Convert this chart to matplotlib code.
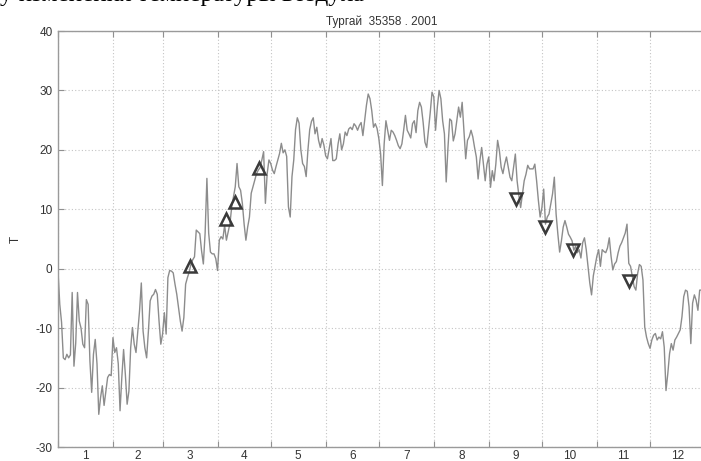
import numpy as np
import matplotlib
matplotlib.use("Agg")
import matplotlib.pyplot as plt
from matplotlib.ticker import FixedLocator, NullFormatter, FixedFormatter

# Daily air temperature, Turgai 35358, 2001
temps = [
    -0.4, -6, -9, -15, -15.3, -14.4, -15, -14.5, -4, -16.4,
    -12.5, -4, -8.8, -10, -12.7, -13.3, -5.2, -6, -15.5, -20.8,
    -14.4, -11.9, -16, -24.5, -21.7, -19.7, -23, -20.6, -18.3, -17.8,
    -18, -11.6, -14.1, -13.3, -16, -23.9, -18.3, -13.6, -17.8, -22.8,
    -20.6, -13.3, -9.9, -12.7, -14.1, -10.5, -7.1, -2.4, -10.5, -13.3,
    -15, -10.5, -5.4, -4.6, -4.3, -3.5, -4.3, -8.8, -12.7, -11,
    -7.4, -11, -1.5, -0.3, -0.4, -0.7, -2.6, -4.3, -6.5, -8.8,
    -10.5, -8.2, -2.6, -1.5, -0.6, 0.8, 1.5, 2, 6.5, 6.2,
    5.9, 3, 0.8, 6, 15.2, 6, 2.8, 2.5, 2.5, 1.7,
    -0.3, 4.8, 5.4, 5, 7.3, 4.8, 6.2, 7.6, 10.4, 12.1,
    13.8, 17.7, 13.8, 13.2, 11, 7.5, 4.8, 7, 8.7, 12.7,
    13.8, 14.9, 16, 16.6, 17, 18.3, 19.7, 11, 16, 18.3,
    17.7, 16.6, 16, 17.2, 18.3, 19.4, 21.1, 19.5, 20, 18.9,
    10.4, 8.7, 15.5, 18.3, 23.4, 25.4, 24.5, 20, 17.7, 17.2,
    15.5, 20, 23.4, 24.8, 25.4, 22.7, 23.8, 21.6, 20.4, 21.9,
    20.8, 19, 18.5, 20.2, 21.9, 18.2, 18.2, 18.5, 21, 22.7,
    20, 21, 23, 22.4, 23.5, 23.8, 23.4, 24.4, 24, 23.3,
    24.1, 24.6, 22.4, 24.9, 27.5, 29.4, 28.6, 26.6, 23.8, 24.4,
    23.6, 21.9, 19.3, 14, 21, 24.9, 23.2, 21.6, 23.3, 23,
    22.4, 21.6, 20.7, 20.2, 21, 23.3, 25.8, 23.3, 22.7, 22,
    24.4, 24.9, 22.9, 26.6, 28, 27.2, 24.6, 21.3, 20.4, 23.3,
    26.3, 29.7, 28.9, 23.3, 27.2, 30, 28.6, 24.9, 22.7, 14.6,
    20.4, 25.2, 24.9, 21.5, 22.7, 24.9, 27.2, 25.5, 28, 23.3,
    18.5, 21.6, 22.2, 23.3, 22.2, 20.4, 18.8, 15.1, 18.2, 20.4,
    17.6, 14.8, 17.6, 18.8, 13.7, 16.5, 14.8, 17.6, 21.6, 19.9,
    17.1, 16, 17.6, 18.8, 17.1, 15.4, 14.8, 17.1, 19.3, 14.8,
    12.3, 10.3, 12.5, 14.8, 15.9, 17.4, 16.8, 16.8, 16.8, 17.6,
    14.8, 11.5, 8.7, 10.3, 13.4, 7.5, 8.7, 9.2, 10.9, 12.6,
    15.4, 9.2, 5.8, 2.8, 4.7, 7, 8.1, 7, 5.8, 5.3,
    4.7, 3.1, 3.8, 2.7, 3.2, 1.8, 4.4, 5.2, 3.2, 0.4,
    -2.4, -4.4, -1.2, 0.4, 2.1, 3.2, 0.4, 3.2, 2.9, 2.7,
    3.5, 5.2, 2.1, -0.2, 0.8, 1.2, 2.7, 3.8, 4.4, 5.2,
    6, 7.5, 0.9, 0.4, -1.3, -3, -3.6, -0.8, 0.7, 0.4,
    -1.9, -9.8, -11.5, -12.6, -13.4, -12, -11.2, -10.9, -12, -11.5,
    -11.8, -10.6, -13.2, -20.5, -17.7, -14.3, -12.6, -13.7, -12, -11.5,
    -10.9, -10.3, -8.1, -4.7, -3.6, -3.8, -6.4, -12.6, -5.8, -4.4,
    -5.3, -7, -3.6, -3.6, -3.5,
]
days = np.arange(len(temps))

# Marked points
up_days = [74.4, 94.6, 99.8, 113.5]
up_temps = [0.4, 8.4, 11.2, 16.9]
down_days = [258.5, 274.5, 290.4, 322.3]
down_temps = [11.8, 7.0, 3.1, -2.1]

month_starts = [0, 31, 59, 90, 120, 151, 181, 212, 243, 273, 304, 334, 365]
month_labels = ["1", "2", "3", "4", "5", "6", "7", "8", "9", "10", "11", "12"]
y_ticks = [-30, -20, -10, 0, 10, 20, 30, 40]

plt.rcParams['font.family'] = ['Liberation Sans', 'DejaVu Sans']
plt.rcParams['axes.unicode_minus'] = False

fig = plt.figure(figsize=(7.01, 4.61), dpi=100)
ax = fig.add_axes([58 / 701, 1 - 447 / 461, 647 / 701, 416 / 461])

ax.plot(days, temps, color="#8c8c8c", lw=1.0, zorder=2)
ax.plot(up_days, up_temps, linestyle="none", marker="^", ms=8.5,
        mfc="none", mec="#3a3a3a", mew=1.8, zorder=3)
ax.plot(down_days, down_temps, linestyle="none", marker="v", ms=8.5,
        mfc="none", mec="#3a3a3a", mew=1.8, zorder=3)

ax.set_xlim(0, 365)
ax.set_ylim(-30, 40)

centers = [(month_starts[i] + month_starts[i + 1]) / 2 for i in range(12)]
ax.xaxis.set_major_locator(FixedLocator(month_starts[:-1]))
ax.xaxis.set_major_formatter(NullFormatter())
ax.xaxis.set_minor_locator(FixedLocator(centers))
ax.xaxis.set_minor_formatter(FixedFormatter(month_labels))
ax.set_yticks(y_ticks)

ax.tick_params(axis="x", which="major", direction="in", length=4, color="#909090",
               top=True, bottom=True)
ax.tick_params(axis="x", which="minor", length=0, labelsize=8.5,
               labelcolor="#333333", pad=2)
ax.tick_params(axis="y", which="major", direction="in", length=4, color="#909090",
               labelsize=8.5, labelcolor="#333333", pad=4, right=False)

ax.grid(True, which="major", linestyle=(0, (1, 2)), color="#c4c4c4", lw=0.8)
ax.set_axisbelow(True)
for s in ax.spines.values():
    s.set_color("#9a9a9a")
    s.set_linewidth(1.0)

ax.set_title("Тургай  35358 . 2001", fontsize=8.5, color="#333333", pad=4)
ax.set_ylabel("T", fontsize=8.5, color="#333333", labelpad=10)

fig.text(0.0, 0.997, "у изменения температуры воздуха", fontsize=18,
         family=["Liberation Serif", "DejaVu Serif"], va="baseline", ha="left",
         color="black")

fig.savefig("out.png", dpi=100)
